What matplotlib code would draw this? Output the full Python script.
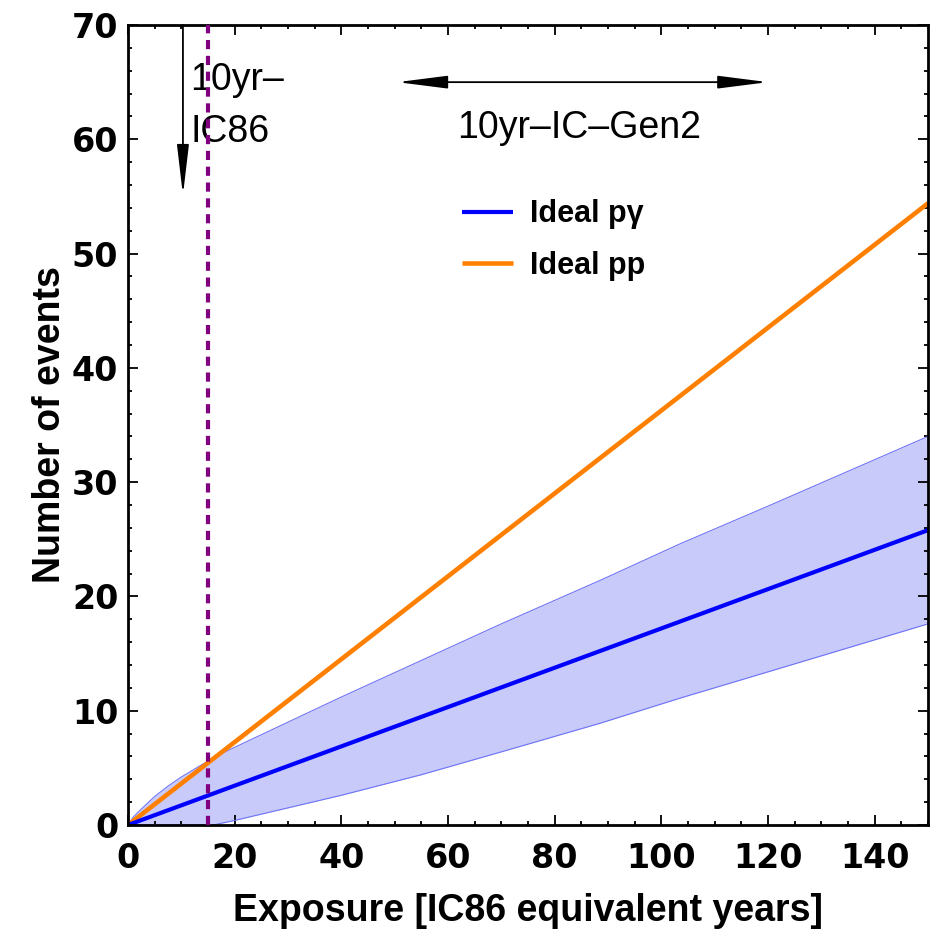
import matplotlib.pyplot as plt
from matplotlib.ticker import MultipleLocator

# exposure in IC86 equivalent years
exposure = [0, 1, 2.5, 5, 7.5, 10, 15, 16, 20, 30, 40, 55, 70, 88.5, 103.5, 120, 150]
band_upper = [0, 0.7, 1.4, 2.5, 3.4, 4.2, 5.6, 5.9, 6.8, 9.0, 11.2, 14.4, 17.6, 21.4, 24.6, 27.9, 34.0]
band_lower = [0, 0, 0, 0, 0, 0, 0, 0, 0.4, 1.5, 2.6, 4.4, 6.4, 8.9, 11.1, 13.4, 17.6]

line_x = [0, 150]
ideal_py = [0, 25.8]
ideal_pp = [0, 54.4]

ic86_exposure = 15
labels = ['Ideal p\u03b3', 'Ideal pp']

fig = plt.figure(figsize=(9.30, 9.31), dpi=100)
ax = fig.add_axes([128/930, 1 - 825/931, 800/930, 800/931])

ax.fill_between(exposure, band_lower, band_upper, color='#c8cbfa', lw=0)
ax.plot(exposure, band_upper, color='#6f74f5', lw=0.8)
ax.plot(exposure, band_lower, color='#6f74f5', lw=0.8)
ax.plot(line_x, ideal_pp, color='#ff8000', lw=3.3, label=labels[1], solid_capstyle='butt')
ax.plot(line_x, ideal_py, color='#0000ff', lw=3.0, label=labels[0], solid_capstyle='butt')
ax.axvline(ic86_exposure, color='#800080', lw=3, dashes=(2.2, 1.6), zorder=5)

# arrows and annotations
ax.annotate('', xy=(10.3, 55.1), xytext=(10.3, 70),
            arrowprops=dict(arrowstyle='-|>,head_length=1.1,head_width=0.13',
                            mutation_scale=28, color='black', lw=1.3,
                            shrinkA=0, shrinkB=0))
ax.text(11.7, 62.9, '10yr\u2013\nIC86', fontsize=27, family='Liberation Sans',
        ha='left', va='center', linespacing=1.55)
ax.annotate('', xy=(50.5, 65), xytext=(120, 65),
            arrowprops=dict(arrowstyle='<|-|>,head_length=1.1,head_width=0.14',
                            mutation_scale=28, color='black', lw=1.3,
                            shrinkA=0, shrinkB=0))
ax.text(84.5, 61.0, '10yr\u2013IC\u2013Gen2', fontsize=27, family='Liberation Sans',
        ha='center', va='center')

handles, labs = ax.get_legend_handles_labels()
order = [1, 0]
leg = ax.legend([handles[i] for i in order], [labs[i] for i in order],
                loc='upper left', bbox_to_anchor=(0.4175, 0.782), frameon=False,
                borderpad=0, borderaxespad=0, handlelength=1.67, handletextpad=0.56,
                labelspacing=0.7, prop={'family': 'Liberation Sans', 'weight': 'bold', 'size': 22})

ax.set_xlim(0, 150)
ax.set_ylim(0, 70)
ax.xaxis.set_major_locator(MultipleLocator(20))
ax.xaxis.set_minor_locator(MultipleLocator(5))
ax.yaxis.set_major_locator(MultipleLocator(10))
ax.yaxis.set_minor_locator(MultipleLocator(2))
ax.tick_params(which='both', direction='in', top=True, right=True, width=1.3)
ax.tick_params(which='major', length=7)
ax.tick_params(which='minor', length=3)
ax.tick_params(axis='x', which='major', pad=12)
ax.tick_params(axis='y', which='major', pad=7)
for lab in ax.get_xticklabels() + ax.get_yticklabels():
    lab.set_family('DejaVu Sans')
    lab.set_weight('bold')
    lab.set_fontsize(24)
for sp in ax.spines.values():
    sp.set_linewidth(2)

ax.set_xlabel('Exposure [IC86 equivalent years]', fontsize=27, family='Liberation Sans',
              weight='bold', labelpad=13)
ax.set_ylabel('Number of events', fontsize=27, family='Liberation Sans',
              weight='bold', labelpad=3)

fig.savefig('out.png', dpi=100)
